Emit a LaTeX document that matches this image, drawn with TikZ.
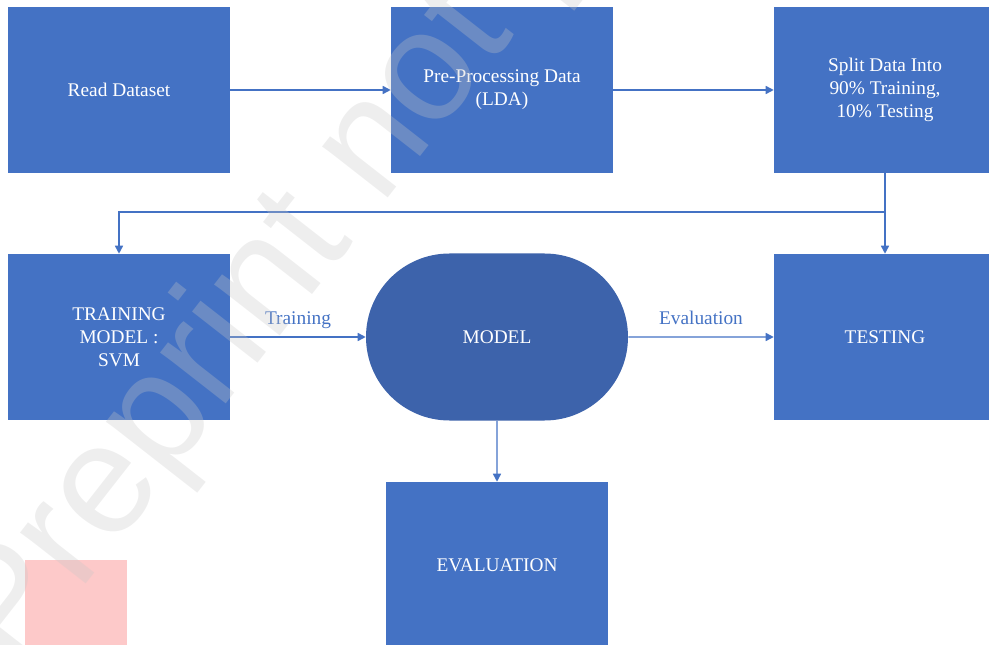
\documentclass[tikz,border=0pt]{standalone}
\usepackage{fontspec}
\setmainfont{Liberation Serif}
\newfontfamily\wmfont{Liberation Sans}
\usetikzlibrary{arrows.meta,shapes.misc}
\definecolor{boxblue}{HTML}{4472C4}
\definecolor{modelblue}{HTML}{3D63AB}
\definecolor{pinkbox}{HTML}{FDC9C9}
\tikzset{
  stepbox/.style={rectangle, fill=boxblue, text=white, align=center, inner sep=0pt, minimum width=222*0.75pt, minimum height=166*0.75pt, font=\fontsize{14.5}{17.3}\selectfont},
  conn/.style={draw=boxblue, line width=1.1pt, -{Triangle[length=6pt,width=6pt]}},
  lbl/.style={text=boxblue, text height=1.6ex, text depth=0.4ex, font=\fontsize{14.5}{17.3}\selectfont}
}
\begin{document}
\begin{tikzpicture}[x=0.75pt,y=-0.75pt]
\useasboundingbox (0,0) rectangle (989,645);
\begin{scope}
\clip (0,0) rectangle (989,645);
% boxes
\node[stepbox] (read) at (119,90) {Read Dataset};
\node[stepbox] (pre) at (502,90) {Pre-Processing Data\\(LDA)};
\node[stepbox] (split) at (885,90) {Split Data Into\\90\% Training,\\10\% Testing};
\node[stepbox] (train) at (119,337) {TRAINING\\MODEL :\\SVM};
\node[rounded rectangle, fill=modelblue, text=white, inner sep=0pt, minimum width=262*0.75pt, minimum height=167*0.75pt, font=\fontsize{14.5}{17.3}\selectfont] (model) at (497,337) {MODEL};
\node[stepbox] (test) at (885,337) {TESTING};
\node[stepbox] (eval) at (497,565) {EVALUATION};
\node[fill=pinkbox, minimum width=102*0.75pt, minimum height=85*0.75pt, inner sep=0pt] (pink) at (76,602.5) {};
% connectors
\draw[conn] (read) -- (pre);
\draw[conn] (pre) -- (split);
\coordinate (j) at (885,212);
\coordinate (jl) at (119,212);
\draw[conn] (split.south -| j) -- (test.north -| j);
\draw[conn] (j) -- (jl) -- (train.north);
\draw[conn] (train) -- node[lbl, above=4pt] {Training} (model);
\draw[conn] (model) -- node[lbl, above=4pt] {Evaluation} (test);
\draw[conn] (model) -- (eval);
% watermark
\node[anchor=base west, rotate=52, text=black!22, opacity=0.3, font=\wmfont\fontsize{118}{118}\selectfont, inner sep=0pt] (wm) at (15,675) {Preprint not peer reviewed};
\end{scope}
\end{tikzpicture}
\end{document}
